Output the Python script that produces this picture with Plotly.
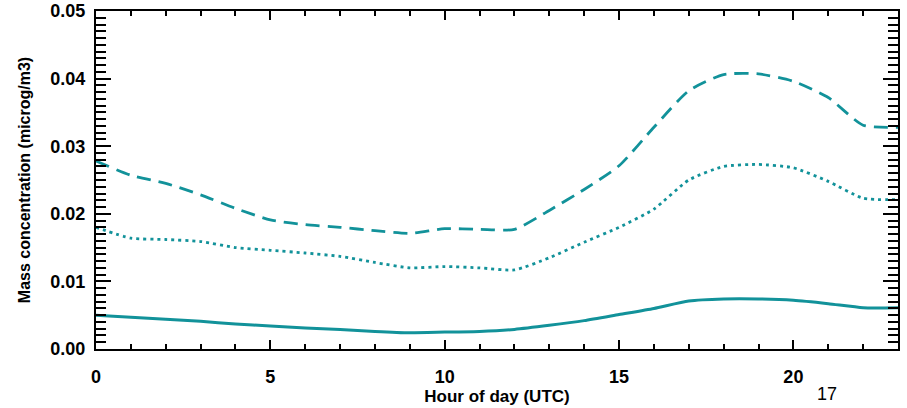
import plotly.graph_objects as go

hours = list(range(24))
dashed_vals = [0.0278, 0.0257, 0.0245, 0.0228, 0.0208, 0.0191, 0.0184, 0.0180,
               0.0175, 0.0171, 0.0178, 0.0177, 0.0177, 0.0205, 0.0236, 0.0271,
               0.0328, 0.0382, 0.0406, 0.0407, 0.0396, 0.0372, 0.0331, 0.0328]
dotted_vals = [0.0180, 0.0164, 0.0162, 0.0159, 0.0150, 0.0146, 0.0142, 0.0137,
               0.0128, 0.0120, 0.0122, 0.0120, 0.0117, 0.0135, 0.0158, 0.0180,
               0.0207, 0.0250, 0.0270, 0.0273, 0.0268, 0.0248, 0.0223, 0.0221]
solid_vals = [0.0050, 0.0047, 0.0044, 0.0041, 0.0037, 0.0034, 0.0031, 0.0029,
              0.0026, 0.0024, 0.0025, 0.0026, 0.0029, 0.0035, 0.0042, 0.0051,
              0.0060, 0.0071, 0.0074, 0.0074, 0.0072, 0.0067, 0.0061, 0.0061]

teal = "#12929a"
font_fam = "Liberation Sans, Arial, sans-serif"

fig = go.Figure()
fig.add_trace(go.Scatter(x=hours, y=dashed_vals, mode="lines",
                         line=dict(color=teal, width=2.8, dash="14px,8px", shape="spline", smoothing=0.6)))
fig.add_trace(go.Scatter(x=hours, y=dotted_vals, mode="lines",
                         line=dict(color=teal, width=2.8, dash="3px,4px", shape="spline", smoothing=0.6)))
fig.add_trace(go.Scatter(x=hours, y=solid_vals, mode="lines",
                         line=dict(color=teal, width=3, shape="spline", smoothing=0.6)))

fig.update_layout(
    width=907, height=408,
    margin=dict(l=96, r=9, t=11, b=59),
    plot_bgcolor="white", paper_bgcolor="white",
    showlegend=False,
    font=dict(family=font_fam, color="black"),
)
fig.update_xaxes(
    range=[0, 23], tickvals=[0, 5, 10, 15, 20], ticktext=["0", "5", "10", "15", "20"],
    ticks="inside", ticklen=9, tickwidth=2, tickcolor="black",
    minor=dict(dtick=1, tick0=0, ticks="inside", ticklen=5, tickwidth=2, tickcolor="black"),
    showline=True, linecolor="black", linewidth=2, mirror="allticks",
    showgrid=False, zeroline=False, automargin=False,
    tickfont=dict(size=18, family=font_fam, weight="bold"),
    ticklabelstandoff=10,
    title=dict(text="Hour of day (UTC)", font=dict(size=17, family=font_fam, weight="bold"), standoff=3),
)
fig.update_yaxes(
    range=[0, 0.05], tickvals=[0, 0.01, 0.02, 0.03, 0.04, 0.05],
    ticktext=["0.00", "0.01", "0.02", "0.03", "0.04", "0.05"],
    ticks="inside", ticklen=15, tickwidth=2, tickcolor="black",
    minor=dict(dtick=0.001, tick0=0, ticks="inside", ticklen=10, tickwidth=2, tickcolor="black"),
    showline=True, linecolor="black", linewidth=2, mirror="allticks",
    showgrid=False, zeroline=False, automargin=False,
    tickfont=dict(size=18, family=font_fam, weight="bold"),
    ticklabelstandoff=5,
    title=dict(text="Mass concentration (microg/m3)", font=dict(size=16, family=font_fam, weight="bold"), standoff=16),
)
fig.add_annotation(text="17", xref="paper", yref="paper", x=0.912, y=-0.168, xanchor="center",
                   yanchor="bottom", showarrow=False, font=dict(size=18, family=font_fam, color="black"))

fig.write_html("out.html")
